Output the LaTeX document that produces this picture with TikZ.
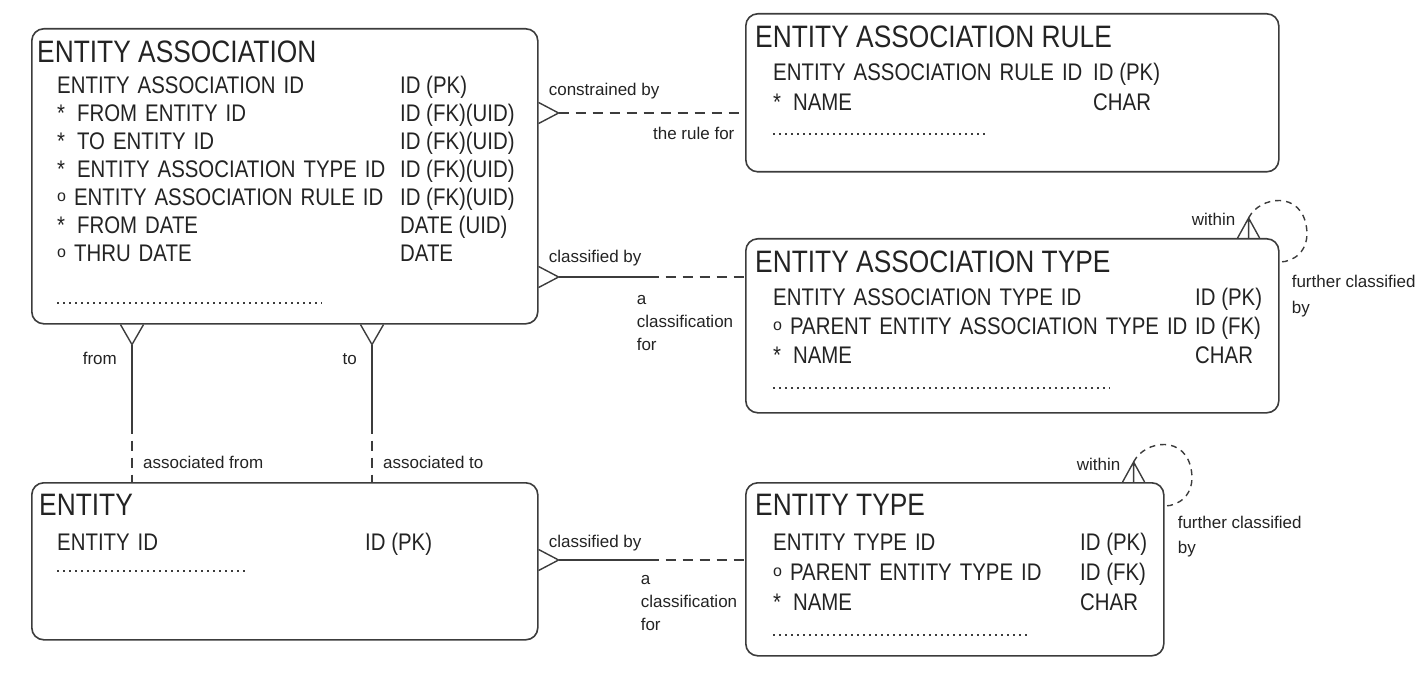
\documentclass[tikz,border=0pt]{standalone}
\usepackage{fontspec}
\setmainfont{Liberation Sans}
\newfontfamily\erfont[FakeStretch=0.85]{Liberation Sans}

\definecolor{erline}{RGB}{60,60,60}
\definecolor{ertext}{RGB}{35,35,35}

% optional-attribute ring
\newcommand\optring{\raisebox{3.5pt}{\rmfamily\fontsize{16}{16}\selectfont o}}

\tikzset{
	entity/.style={draw=erline, line width=1.6pt, rounded corners=12pt, anchor=north west, inner sep=0pt},
	etitle/.style={font=\erfont\fontsize{31}{31}\selectfont, text=ertext, inner sep=0pt, anchor=base west},
	attrs/.style={matrix, inner sep=0pt, anchor=north west, row sep=0pt, column sep=0pt,
		nodes={font=\erfont\fontsize{24}{24}\selectfont, text=ertext, inner sep=0pt, anchor=base west, text height=18pt, text depth=10pt}},
	lbl/.style={font=\fontsize{17}{23}\selectfont, text=ertext, inner sep=0pt, align=left},
	rel/.style={draw=erline, line width=1.4pt},
	opt/.style={rel, dash pattern=on 10pt off 7pt},
	loopline/.style={rel, dash pattern=on 6pt off 5pt},
	dots/.style={draw=erline, line width=1.2pt, dash pattern=on 1.5pt off 4.5pt},
}

\begin{document}
\begin{tikzpicture}[x=1pt, y=-1pt]
			\useasboundingbox (0,0) rectangle (1428,679);

			\node (ea) [entity, minimum width=506pt, minimum height=295pt] at (31,28) {};
			\node (ear) [entity, minimum width=533pt, minimum height=158pt] at (745,13) {};
			\node (eat) [entity, minimum width=533pt, minimum height=174pt] at (745,238) {};
			\node (ent) [entity, minimum width=506pt, minimum height=157pt] at (31,482) {};
			\node (et) [entity, minimum width=418pt, minimum height=173pt] at (745,482) {};

			% ENTITY ASSOCIATION
			\node (ea_title) [etitle] at ([shift={(6,35)}]ea.north west) {ENTITY ASSOCIATION};
			\matrix (ea_attrs) [attrs, column 1/.style={nodes={text width=343pt}}] at ([shift={(26,47)}]ea.north west) {
			\node {ENTITY ASSOCIATION ID}; \pgfmatrixnextcell
			\node {ID (PK)}; \\
			\node {*\enspace FROM ENTITY ID}; \pgfmatrixnextcell
			\node {ID (FK)(UID)}; \\
			\node {*\enspace TO ENTITY ID}; \pgfmatrixnextcell
			\node {ID (FK)(UID)}; \\
			\node {*\enspace ENTITY ASSOCIATION TYPE ID}; \pgfmatrixnextcell
			\node {ID (FK)(UID)}; \\
			\node {\optring\ ENTITY ASSOCIATION RULE ID}; \pgfmatrixnextcell
			\node {ID (FK)(UID)}; \\
			\node {*\enspace FROM DATE}; \pgfmatrixnextcell
			\node {DATE (UID)}; \\
			\node {\optring\ THRU DATE}; \pgfmatrixnextcell
			\node {DATE}; \\
			};
			\draw [dots] ([shift={(26,275)}]ea.north west) -- ++(265,0);

			% ENTITY ASSOCIATION RULE
			\node (ear_title) [etitle] at ([shift={(10,35)}]ear.north west) {ENTITY ASSOCIATION RULE};
			\matrix (ear_attrs) [attrs, nodes={text depth=12pt}, column 1/.style={nodes={text width=320pt}}] at ([shift={(28,49)}]ear.north west) {
			\node {ENTITY ASSOCIATION RULE ID}; \pgfmatrixnextcell
			\node {ID (PK)}; \\
			\node {*\enspace NAME}; \pgfmatrixnextcell
			\node {CHAR}; \\
			};
			\draw [dots] ([shift={(28,121)}]ear.north west) -- ++(214,0);

			% ENTITY ASSOCIATION TYPE
			\node (eat_title) [etitle] at ([shift={(10,35)}]eat.north west) {ENTITY ASSOCIATION TYPE};
			\matrix (eat_attrs) [attrs, nodes={text depth=11pt}, column 1/.style={nodes={text width=422pt}}] at ([shift={(28,49)}]eat.north west) {
			\node {ENTITY ASSOCIATION TYPE ID}; \pgfmatrixnextcell
			\node {ID (PK)}; \\
			\node {\optring\ PARENT ENTITY ASSOCIATION TYPE ID}; \pgfmatrixnextcell
			\node {ID (FK)}; \\
			\node {*\enspace NAME}; \pgfmatrixnextcell
			\node {CHAR}; \\
			};
			\draw [dots] ([shift={(28,150)}]eat.north west) -- ++(337,0);

			% ENTITY
			\node (ent_title) [etitle] at ([shift={(8,33)}]ent.north west) {ENTITY};
			\matrix (ent_attrs) [attrs, column 1/.style={nodes={text width=308pt}}] at ([shift={(26,50)}]ent.north west) {
			\node {ENTITY ID}; \pgfmatrixnextcell
			\node {ID (PK)}; \\
			};
			\draw [dots] ([shift={(26,89)}]ent.north west) -- ++(190,0);

			% ENTITY TYPE
			\node (et_title) [etitle] at ([shift={(10,33)}]et.north west) {ENTITY TYPE};
			\matrix (et_attrs) [attrs, nodes={text depth=12pt}, column 1/.style={nodes={text width=307pt}}] at ([shift={(28,50)}]et.north west) {
			\node {ENTITY TYPE ID}; \pgfmatrixnextcell
			\node {ID (PK)}; \\
			\node {\optring\ PARENT ENTITY TYPE ID}; \pgfmatrixnextcell
			\node {ID (FK)}; \\
			\node {*\enspace NAME}; \pgfmatrixnextcell
			\node {CHAR}; \\
			};
			\draw [dots] ([shift={(28,153)}]et.north west) -- ++(257,0);

			% constrained by / the rule for
			\coordinate (rule_apex) at ([shift={(20,85)}]ea.north east);
			\draw [rel] (rule_apex) ++(-20,-10.5) -- (rule_apex) -- ++(-20,10.5);
			\draw [opt] (rule_apex) -- (rule_apex -| ear.west);
			\node [lbl, anchor=base west] at ([shift={(-10,-17)}]rule_apex) {constrained by};
			\node [lbl, anchor=base east] at ([shift={(176,27)}]rule_apex) {the rule for};

			% classified by (association type)
			\coordinate (type_apex) at ([shift={(20,249)}]ea.north east);
			\draw [rel] (type_apex) ++(-20,-10.5) -- (type_apex) -- ++(-20,10.5);
			\draw [rel] (type_apex) -- ++(90,0) coordinate (type_mid);
			\draw [opt] (type_mid) -- (type_mid -| eat.west);
			\node [lbl, anchor=base west] at ([shift={(-10,-14)}]type_apex) {classified by};
			\node [lbl, anchor=base west] at ([shift={(78,73)}]type_apex) {a\\classification\\for};

			% classified by (entity type)
			\coordinate (etype_apex) at ([shift={(20,78)}]ent.north east);
			\draw [rel] (etype_apex) ++(-20,-10.5) -- (etype_apex) -- ++(-20,10.5);
			\draw [rel] (etype_apex) -- ++(90,0) coordinate (etype_mid);
			\draw [opt] (etype_mid) -- (etype_mid -| et.west);
			\node [lbl, anchor=base west] at ([shift={(-10,-13)}]etype_apex) {classified by};
			\node [lbl, anchor=base west] at ([shift={(82,70)}]etype_apex) {a\\classification\\for};

			% from / associated from
			\coordinate (from_apex) at ([shift={(101,20)}]ea.south west);
			\draw [rel] (from_apex) ++(-11.5,-20) -- (from_apex) -- ++(11.5,-20);
			\draw [rel] (from_apex) -- ++(0,79) coordinate (from_mid);
			\draw [opt] (from_mid) -- (from_mid |- ent.north);
			\node [lbl, anchor=base east] at ([shift={(-15,20)}]from_apex) {from};
			\node [lbl, anchor=base west] at ([shift={(11,45)}]from_mid) {associated from};

			% to / associated to
			\coordinate (to_apex) at ([shift={(341,20)}]ea.south west);
			\draw [rel] (to_apex) ++(-11.5,-20) -- (to_apex) -- ++(11.5,-20);
			\draw [rel] (to_apex) -- ++(0,79) coordinate (to_mid);
			\draw [opt] (to_mid) -- (to_mid |- ent.north);
			\node [lbl, anchor=base east] at ([shift={(-15,20)}]to_apex) {to};
			\node [lbl, anchor=base west] at ([shift={(11,45)}]to_mid) {associated to};

			% within / further classified by (association type)
			\coordinate (eat_apex) at ([shift={(-31,-20)}]eat.north east);
			\coordinate (eat_end) at ([shift={(0,24)}]eat.north east);
			\draw [rel] (eat_apex) ++(-11,20) -- (eat_apex) -- ++(11,20) (eat_apex) -- ++(0,20);
			\draw [loopline] (eat_apex) .. controls +(11,-22) and +(-5,-38) .. ++(58,10) .. controls +(3,22) and +(15,0) .. (eat_end);
			\node [lbl, anchor=base east] at ([shift={(-13,8)}]eat_apex) {within};
			\node [lbl, font=\fontsize{17}{25}\selectfont, anchor=base west] at ([shift={(12,51)}]eat_end) {further classified\\by};

			% within / further classified by (entity type)
			\coordinate (et_apex) at ([shift={(-31,-20)}]et.north east);
			\coordinate (et_end) at ([shift={(0,24)}]et.north east);
			\draw [rel] (et_apex) ++(-11,20) -- (et_apex) -- ++(11,20) (et_apex) -- ++(0,20);
			\draw [loopline] (et_apex) .. controls +(11,-22) and +(-5,-38) .. ++(58,10) .. controls +(3,22) and +(15,0) .. (et_end);
			\node [lbl, anchor=base east] at ([shift={(-13,8)}]et_apex) {within};
			\node [lbl, font=\fontsize{17}{25}\selectfont, anchor=base west] at ([shift={(13,47)}]et_end) {further classified\\by};
		\end{tikzpicture}
\end{document}
